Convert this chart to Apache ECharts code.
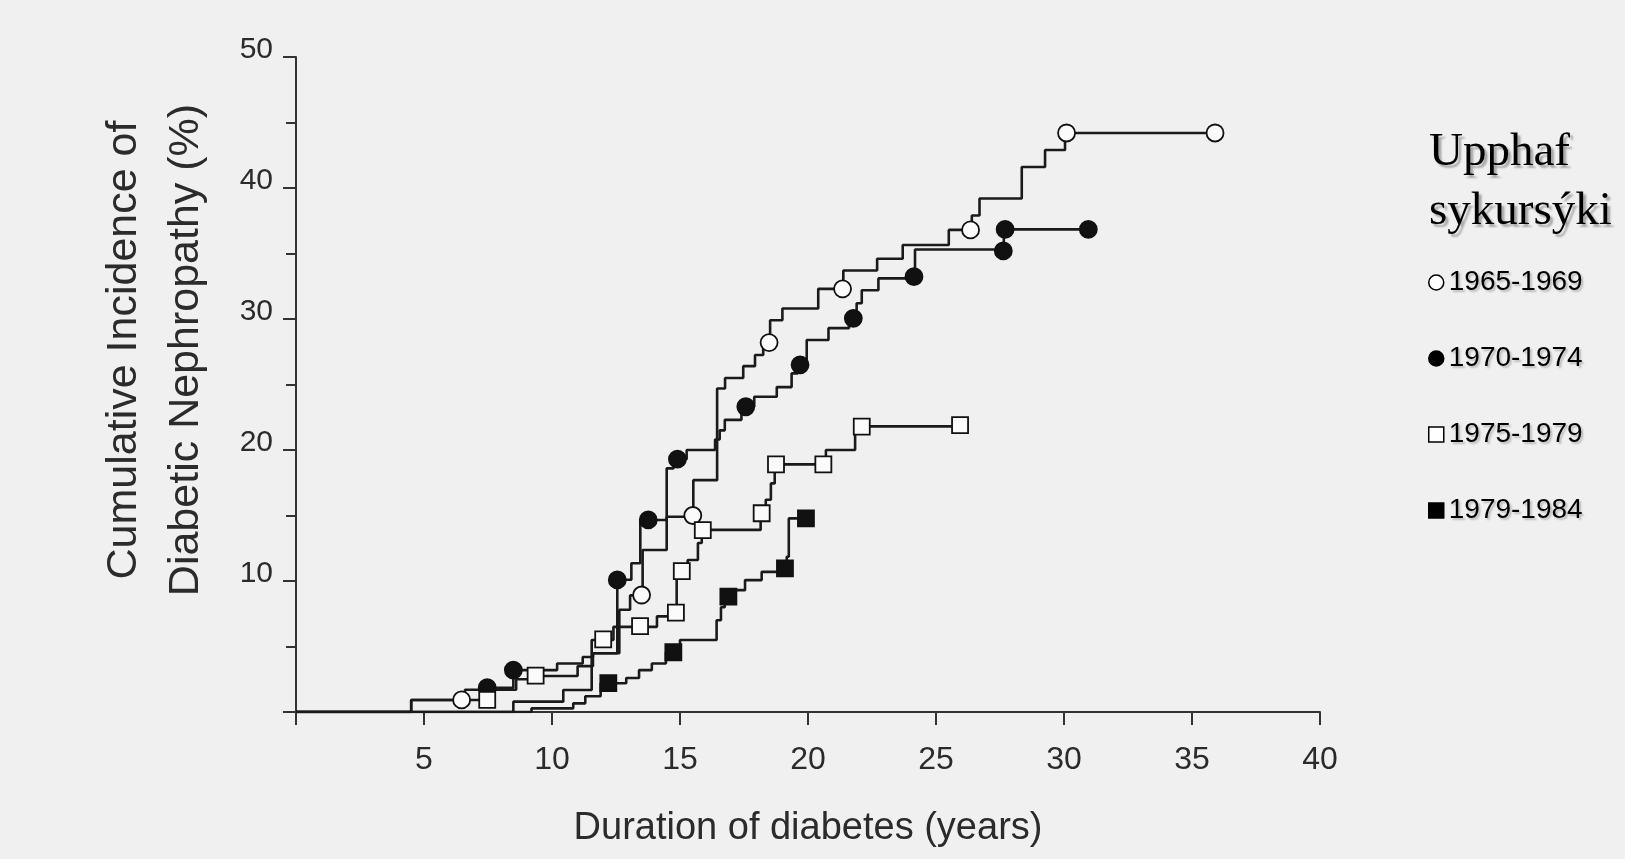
<!DOCTYPE html>
<html>
<head>
<meta charset="utf-8">
<script src="https://cdn.jsdelivr.net/npm/echarts@6/dist/echarts.min.js"></script>
<style>
  html, body { margin: 0; padding: 0; background: #f0f0f0; }
  #chart { width: 1625px; height: 859px; }
</style>
</head>
<body>
<div id="chart"></div>
<script>
// Onset cohorts (year diabetes began)
const cohorts = ['1965-1969', '1970-1974', '1975-1979', '1979-1984'];

// Step curves: [duration (years), cumulative incidence (%)] at each jump
const curve1965 = [[0,0],[4.5,0.92],[6.6,1.7],[8.6,2.5],[9.6,2.75],[11.0,3.5],[11.6,4.48],[12.63,7.8],[13.05,8.9],[13.54,12.37],[14.48,14.9],[15.52,17.7],[16.45,24.7],[16.76,25.5],[17.47,26.4],[17.93,27.25],[18.25,28.2],[18.52,29.9],[19.0,30.8],[20.4,32.3],[21.38,33.7],[22.7,34.6],[23.7,35.65],[25.5,36.8],[26.4,37.9],[26.7,39.2],[28.35,41.6],[29.26,42.9],[30.04,44.2],[35.9,44.2]];
const curve1970 = [[0,0],[4.5,0.92],[7.3,1.85],[8.49,3.2],[10.2,3.7],[11.2,4.2],[11.6,4.48],[12.55,10.1],[13.1,11.35],[13.45,14.66],[14.48,18.6],[14.75,19.3],[15.26,20.0],[16.37,20.8],[16.55,21.5],[16.75,22.3],[17.4,23.3],[17.9,24.07],[18.78,24.8],[19.36,25.85],[19.6,26.5],[19.95,28.4],[20.8,29.3],[21.6,30.05],[21.9,31.2],[22.1,32.2],[22.75,33.1],[24.18,35.3],[27.65,36.84],[30.95,36.84]];
const curve1975 = [[0,0],[8.49,0.79],[10.44,1.68],[11.55,5.5],[12.4,6.5],[14.1,7.3],[14.6,7.58],[14.87,10.76],[15.3,11.6],[15.7,12.9],[15.85,13.9],[18.15,15.17],[18.35,16.2],[18.55,17.45],[18.7,18.9],[20.7,20.0],[21.84,21.8],[25.94,21.8]];
const curve1979 = [[0,0],[9.2,0.28],[10.83,0.66],[11.3,1.2],[11.9,2.19],[12.9,2.6],[13.4,3.2],[13.9,3.7],[14.45,4.56],[15.0,5.5],[16.43,7.0],[16.6,8.0],[16.75,8.8],[16.95,9.3],[17.54,10.07],[18.19,10.7],[19.17,11.85],[19.25,14.78],[19.92,14.78]];

// Plot symbols placed along each curve
const marks1965 = [[6.47,0.92],[13.5,8.93],[15.5,15.0],[18.48,28.2],[21.35,32.3],[26.35,36.8],[30.1,44.2],[35.9,44.2]];
const marks1970 = [[7.47,1.85],[8.49,3.2],[12.55,10.08],[13.76,14.66],[14.9,19.3],[17.57,23.3],[19.69,26.5],[21.77,30.05],[24.14,33.23],[27.63,35.2],[27.7,36.84],[30.95,36.84]];
const marks1975 = [[7.47,0.92],[9.36,2.77],[12.0,5.55],[13.44,6.56],[14.84,7.58],[15.07,10.76],[15.89,13.89],[18.19,15.17],[18.75,18.9],[20.6,18.9],[22.1,21.78],[25.94,21.9]];
const marks1979 = [[12.2,2.2],[14.74,4.56],[16.89,8.8],[19.1,10.97],[19.92,14.78]];

const curves = [curve1965, curve1970, curve1975, curve1979];
const marks = [marks1965, marks1970, marks1975, marks1979];
const symbols = ['circle', 'circle', 'rect', 'rect'];
const filled = [false, true, false, true];

const INK = '#1a1a1a';
const TEXT = '#2b2b2b';
const SANS = '"Liberation Sans", Arial, Helvetica, sans-serif';

const series = [];
cohorts.forEach((name, i) => {
  series.push({
    name: name + ' curve',
    type: 'line',
    step: 'end',
    data: curves[i],
    showSymbol: false,
    lineStyle: { color: INK, width: 2.6 },
    z: 2,
    silent: true
  });
});
cohorts.forEach((name, i) => {
  series.push({
    name: name,
    type: 'scatter',
    data: marks[i],
    symbol: symbols[i],
    symbolSize: symbols[i] === 'rect' ? 16 : 17,
    itemStyle: {
      color: filled[i] ? '#111' : '#fbfbfb',
      borderColor: '#111',
      borderWidth: 1.8,
      opacity: 1
    },
    z: 3,
    silent: true
  });
});

const chart = echarts.init(document.getElementById('chart'), null, { renderer: 'canvas' });
chart.setOption({
  backgroundColor: '#f0f0f0',
  animation: false,
  title: {
    text: 'Upphaf\nsykursýki',
    left: 1424,
    top: 118,
    textStyle: {
      fontFamily: '"Liberation Serif", "DejaVu Serif", serif',
      fontSize: 47,
      fontWeight: 'normal',
      lineHeight: 59,
      color: '#000',
      textShadowColor: 'rgba(0,0,0,0.3)',
      textShadowOffsetX: 3,
      textShadowOffsetY: 3,
      textShadowBlur: 2
    }
  },
  legend: {
    orient: 'vertical',
    left: 1423,
    top: 263,
    itemWidth: 15,
    itemHeight: 15,
    itemGap: 47,
    selectedMode: false,
    data: cohorts.map((name, i) => ({
      name: name,
      icon: symbols[i],
      itemStyle: {
        color: filled[i] ? '#000' : '#fff',
        borderColor: '#000',
        borderWidth: 1.5
      }
    })),
    textStyle: {
      fontFamily: SANS,
      fontSize: 28,
      color: '#000',
      lineHeight: 29,
      textShadowColor: 'rgba(0,0,0,0.22)',
      textShadowOffsetX: 2,
      textShadowOffsetY: 2,
      textShadowBlur: 2
    }
  },
  grid: { left: 296, right: 305, top: 57, bottom: 147, containLabel: false },
  xAxis: {
    type: 'value',
    min: 0,
    max: 40,
    interval: 5,
    splitLine: { show: false },
    axisLine: { show: true, lineStyle: { color: '#333', width: 2 } },
    axisTick: { show: true, length: 13, lineStyle: { color: '#333', width: 2 } },
    axisLabel: {
      formatter: v => (v === 0 ? '' : String(v)),
      fontFamily: SANS,
      fontSize: 32,
      color: TEXT,
      margin: 32
    }
  },
  yAxis: {
    type: 'value',
    min: 0,
    max: 50,
    interval: 10,
    splitLine: { show: false },
    axisLine: { show: true, lineStyle: { color: '#333', width: 2 } },
    axisTick: { show: true, length: 13, lineStyle: { color: '#333', width: 2 } },
    minorTick: { show: true, splitNumber: 2, length: 10, lineStyle: { color: '#333', width: 2 } },
    minorSplitLine: { show: false },
    axisLabel: {
      formatter: v => (v === 0 ? '' : String(v)),
      fontFamily: SANS,
      fontSize: 30,
      color: TEXT,
      margin: 23,
      verticalAlign: 'bottom',
      lineHeight: 14
    }
  },
  graphic: [
    {
      type: 'text',
      x: 155,
      y: 350,
      rotation: Math.PI / 2,
      style: {
        text: 'Cumulative Incidence of\nDiabetic Nephropathy (%)',
        fontFamily: SANS,
        fontSize: 43,
        lineHeight: 62,
        fill: TEXT,
        align: 'center',
        verticalAlign: 'middle'
      }
    },
    {
      type: 'text',
      x: 808,
      y: 829,
      style: {
        text: 'Duration of diabetes (years)',
        fontFamily: SANS,
        fontSize: 38,
        fill: TEXT,
        align: 'center',
        verticalAlign: 'middle'
      }
    }
  ],
  series: series
});
</script>
</body>
</html>
